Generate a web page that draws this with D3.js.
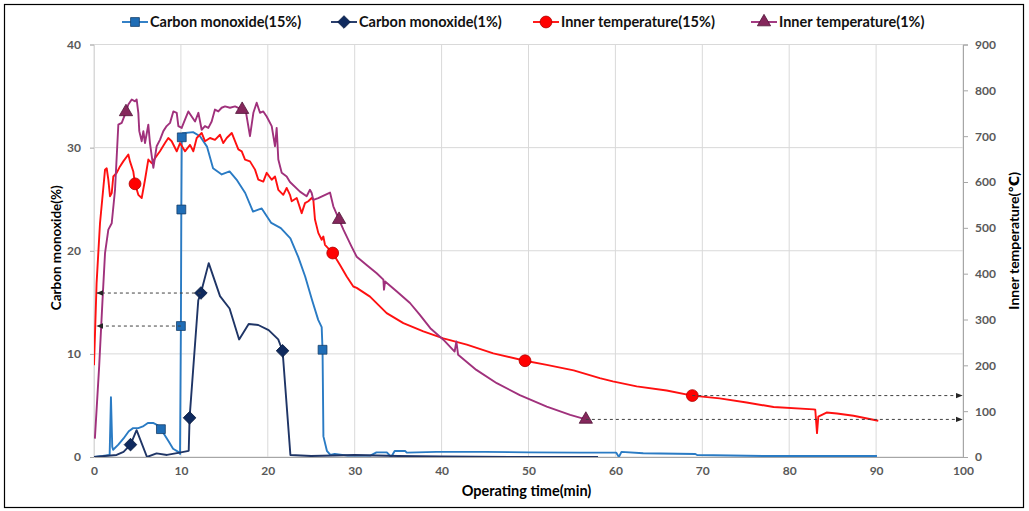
<!DOCTYPE html>
<html><head><meta charset="utf-8">
<script src="https://cdn.jsdelivr.net/npm/d3@7"></script>
<style>
body{margin:0;background:#fff}
svg{display:block}
text{font-family:Lato,"Open Sans","DejaVu Sans",sans-serif}
</style>
</head><body>
<svg id="chart" width="1029" height="511"></svg>
<script>
// ---------- DATA ----------
const xTicks = [0,10,20,30,40,50,60,70,80,90,100];
const leftTicks = [0,10,20,30,40];
const rightTicks = [0,100,200,300,400,500,600,700,800,900];
const seriesNames = ["Carbon monoxide(15%)","Carbon monoxide(1%)","Inner temperature(15%)","Inner temperature(1%)"];
const xTitle = "Operating time(min)";
const leftTitle = "Carbon monoxide(%)";
const rightTitle = "Inner temperature(\u2103)";

// Carbon monoxide 15% [min, %]
const co15 = [[0,0],[1.0,0.1],[1.8,0.2],[1.95,5.8],[2.1,1.0],[2.2,0.7],[2.8,1.2],[3.4,1.8],[4.0,2.5],[4.5,2.8],[5.1,2.8],[5.7,3.0],[6.2,3.3],[6.8,3.3],[7.3,3.1],[7.7,2.7],[8.0,2.3],[8.6,1.5],[9.1,0.8],[9.7,0.5],[9.9,0.3],[10.0,12.7],[10.05,24.0],[10.1,31.0],[10.2,31.4],[11.4,31.5],[12.2,31.1],[13.0,30.1],[13.7,28.0],[14.7,27.4],[15.6,27.7],[16.4,26.9],[17.4,25.6],[18.3,23.8],[19.3,24.1],[20.4,22.7],[21.5,22.2],[22.6,21.2],[23.5,19.4],[24.3,17.5],[25.1,15.2],[25.8,13.3],[26.2,12.6],[26.3,10.4],[26.4,2.0],[26.8,0.6],[27.2,0.2],[27.7,0.3],[29.2,0.13],[31.8,0.13],[32.5,0.45],[33.7,0.45],[34.2,0.0],[34.6,0.58],[35.8,0.58],[36.0,0.42],[39.4,0.5],[45,0.5],[50,0.45],[55.9,0.42],[60.1,0.42],[60.4,0.0],[60.7,0.5],[63.2,0.36],[69.2,0.29],[69.4,0.19],[77.0,0.1],[90.1,0.1]];
const co15Markers = [[7.7,2.7],[10.0,12.7],[10.05,24.0],[10.1,31.0],[26.3,10.4]];

// Carbon monoxide 1% [min, %]
const co1 = [[0,0],[2.6,0.2],[3.4,0.5],[4.2,1.2],[4.9,2.6],[6.1,0.0],[7.2,0.35],[8.4,0.2],[9.7,0.4],[10.9,0.6],[11.0,3.8],[12.0,15.2],[12.3,15.9],[13.2,18.8],[14.5,15.6],[15.6,14.4],[16.7,11.4],[17.8,12.9],[18.9,12.8],[20.1,12.3],[21.2,11.4],[21.7,10.3],[22.6,0.2],[25,0.1],[30,0.2],[35,0.1],[40,0.05],[50,0.0],[58,0.0]];
const co1Markers = [[4.2,1.2],[11.0,3.8],[12.3,15.9],[21.7,10.3]];

// Inner temperature 15% [min, degC]
const temp15 = [[0,200],[0.3,380],[0.69,510],[1.27,627],[1.46,630],[1.65,605],[1.84,569],[2.04,576],[2.22,612],[2.61,620],[2.99,634],[3.37,645],[3.95,660],[4.14,645],[4.52,623],[4.72,596],[5.1,572],[5.49,565],[5.87,605],[6.25,649],[6.64,641],[7.02,652],[7.59,667],[8.17,685],[8.55,696],[8.94,689],[9.52,667],[9.9,685],[10.47,667],[11.05,681],[11.43,667],[11.82,696],[12.39,707],[12.77,689],[13.35,696],[13.92,692],[14.5,703],[14.88,685],[15.27,696],[15.85,707],[16.23,689],[16.61,671],[17.0,667],[17.38,649],[17.95,645],[18.53,627],[18.91,605],[19.48,601],[19.87,620],[20.45,605],[20.83,612],[21.21,583],[21.78,572],[22.17,587],[22.55,572],[22.75,558],[23.33,565],[23.9,532],[24.28,554],[24.66,558],[25.05,565],[25.24,561],[25.43,518],[25.81,489],[26.2,474],[26.39,481],[26.58,463],[27.47,445],[28.31,419],[29.08,394],[29.84,372],[30.23,369],[31.76,350],[33.68,314],[35.6,292],[37.9,274],[40.2,259],[42.9,245],[45.95,226],[49.6,210],[52.1,201],[55.2,189],[58.2,172],[59.7,165],[62.45,154],[65.9,145],[68.85,134],[72.0,128],[75.1,119],[78.2,109],[82.8,104],[83.0,103],[83.2,52],[83.35,88],[84.3,97],[85.5,95],[87.4,90],[90.25,79]];
const temp15Markers = [[4.72,596],[27.47,445],[49.6,210],[68.85,134]];

// Inner temperature 1% [min, degC]
const temp1 = [[0.1,40],[0.6,200],[1.0,350],[1.27,445],[1.65,496],[2.04,510],[2.42,583],[2.8,725],[3.19,729],[3.68,753],[3.95,769],[4.34,780],[4.72,776],[4.91,780],[5.1,751],[5.21,711],[5.49,689],[5.68,711],[5.87,685],[6.25,725],[6.44,685],[6.83,631],[7.21,678],[7.59,692],[7.98,711],[8.36,722],[8.75,729],[9.13,754],[9.52,751],[9.71,722],[10.09,718],[10.47,736],[10.86,754],[11.24,743],[11.63,732],[12.01,751],[12.39,714],[12.77,722],[13.16,718],[13.54,732],[13.92,758],[14.31,754],[14.69,762],[15.08,765],[15.65,762],[16.23,765],[17.05,758],[17.5,751],[17.95,700],[18.34,751],[18.72,773],[19.1,751],[19.48,754],[19.87,743],[20.45,722],[20.83,678],[21.02,718],[21.21,649],[21.6,620],[22.17,612],[22.55,600],[23.7,579],[24.47,569],[24.85,583],[25.05,576],[25.24,561],[25.81,565],[27.16,577],[27.54,547],[28.2,518],[28.7,496],[29.64,459],[30.23,437],[31.37,419],[32.53,401],[33.3,387],[33.37,365],[33.5,383],[34.85,361],[36.36,336],[37.5,310],[38.7,281],[40.2,256],[41.5,230],[41.7,252],[41.9,223],[44.0,190],[46.35,161],[49.0,135],[52.1,110],[54.8,92],[56.6,82]];
const temp1Markers = [[3.68,753],[17.05,758],[28.2,518],[56.6,82]];

// dashed reference arrows: [from x, value, to x]
const arrowsLeft = [[12.3,15.9,0],[10.0,12.7,0]];
const arrowsRight = [[68.85,134,100],[56.6,82,100]];

// ---------- DRAW ----------
const svg = d3.select("#chart");
const L = 94, R = 963, T = 44.5, B = 457;
const x = d3.scaleLinear().domain([0,100]).range([L,R]);
const yL = d3.scaleLinear().domain([0,40]).range([B,T]);
const yR = d3.scaleLinear().domain([0,900]).range([B,T]);

// outer frame
svg.append("rect").attr("x",4.5).attr("y",4.5).attr("width",1019).attr("height",503)
  .attr("fill","#fff").attr("stroke","#000").attr("stroke-width",1.2);

// gridlines
const grid = svg.append("g").attr("stroke","#d9d9d9").attr("stroke-width",1);
xTicks.forEach(t=>grid.append("line").attr("x1",x(t)).attr("x2",x(t)).attr("y1",T).attr("y2",B));
leftTicks.forEach(t=>grid.append("line").attr("x1",L).attr("x2",R).attr("y1",yL(t)).attr("y2",yL(t)));

// axes
const axisColor = "#a6a6a6";
const gL = svg.append("g").attr("transform",`translate(${L},0)`)
  .call(d3.axisLeft(yL).tickValues(leftTicks).tickSize(4).tickPadding(9).tickFormat(d3.format("d")));
const gR = svg.append("g").attr("transform",`translate(${R},0)`)
  .call(d3.axisRight(yR).tickValues(rightTicks).tickSize(5).tickPadding(7).tickFormat(d3.format("d")));
const gB = svg.append("g").attr("transform",`translate(0,${B})`)
  .call(d3.axisBottom(x).tickValues(xTicks).tickSize(0).tickPadding(9).tickFormat(d3.format("d")));
[gL,gR,gB].forEach(g=>{
  g.selectAll("path").attr("stroke",axisColor).attr("stroke-width",1);
  g.selectAll("line").attr("stroke",axisColor);
  g.selectAll("text").attr("fill","#595959").style("font-size","12px").style("font-weight","bold");
});
gL.select("path").attr("stroke","#d9d9d9");

// axis titles
svg.append("text").attr("x",(L+R)/2-2).attr("y",496).attr("text-anchor","middle")
  .style("font-size","14.5px").style("font-weight","bold").text(xTitle);
svg.append("text").attr("transform",`translate(61,${(T+B)/2-3}) rotate(-90)`).attr("text-anchor","middle")
  .style("font-size","13.5px").style("font-weight","bold").text(leftTitle);
svg.append("text").attr("transform",`translate(1019,${(T+B)/2-10}) rotate(-90)`).attr("text-anchor","middle")
  .style("font-size","14px").style("font-weight","bold").text(rightTitle);

// clip
svg.append("clipPath").attr("id","plotclip").append("rect")
  .attr("x",L).attr("y",T-8).attr("width",R-L).attr("height",B-T+8);
const plot = svg.append("g").attr("clip-path","url(#plotclip)");

// dashed arrows
svg.append("defs").append("marker").attr("id","arr").attr("viewBox","0 0 10 10")
  .attr("refX",9).attr("refY",5).attr("markerWidth",7).attr("markerHeight",7).attr("orient","auto-start-reverse")
  .attr("markerUnits","userSpaceOnUse")
  .append("path").attr("d","M0,1 L10,5 L0,9 Z").attr("fill","#262626");
arrowsLeft.forEach(a=>{
  svg.append("line").attr("x1",x(a[0])).attr("x2",x(a[2])+3).attr("y1",yL(a[1])).attr("y2",yL(a[1]))
    .attr("stroke","#404040").attr("stroke-width",1).attr("stroke-dasharray","3,3").attr("marker-end","url(#arr)");
});
arrowsRight.forEach(a=>{
  svg.append("line").attr("x1",x(a[0])).attr("x2",x(a[2])-1).attr("y1",yR(a[1])).attr("y2",yR(a[1]))
    .attr("stroke","#404040").attr("stroke-width",1).attr("stroke-dasharray","3,3").attr("marker-end","url(#arr)");
});

const styles = [
  {data:co15, markers:co15Markers, y:yL, color:"#2a7bc4", mfill:"#1f6db6", mstroke:"#163f6a", sym:d3.symbolSquare, size:78, rot:0},
  {data:co1, markers:co1Markers, y:yL, color:"#1f3566", mfill:"#0f2a5e", mstroke:"#0a1c40", sym:d3.symbolSquare, size:80, rot:45},
  {data:temp15, markers:temp15Markers, y:yR, color:"#ff1010", mfill:"#ff0000", mstroke:"#b00000", sym:d3.symbolCircle, size:110, rot:0},
  {data:temp1, markers:temp1Markers, y:yR, color:"#a0317c", mfill:"#85275c", mstroke:"#4f1436", sym:d3.symbolTriangle, size:76, rot:0}
];

styles.forEach(s=>{
  const line = d3.line().x(d=>x(d[0])).y(d=>s.y(d[1]));
  plot.append("path").datum(s.data).attr("d",line).attr("fill","none")
    .attr("stroke",s.color).attr("stroke-width",1.9).attr("stroke-linejoin","round");
  plot.selectAll(null).data(s.markers).enter().append("path")
    .attr("d",d3.symbol().type(s.sym).size(s.size))
    .attr("transform",d=>`translate(${x(d[0])},${s.y(d[1])}) rotate(${s.rot})`)
    .attr("fill",s.mfill).attr("stroke",s.mstroke).attr("stroke-width",0.8);
});

// legend
const legendX = [122,331,533,751];
const lg = svg.append("g");
styles.forEach((s,i)=>{
  const g = lg.append("g").attr("transform",`translate(${legendX[i]},22)`);
  g.append("line").attr("x1",0).attr("x2",26).attr("y1",0).attr("y2",0).attr("stroke",s.color).attr("stroke-width",1.9);
  g.append("path").attr("d",d3.symbol().type(s.sym).size(s.size)).attr("transform",`translate(13,0) rotate(${s.rot})`)
    .attr("fill",s.mfill).attr("stroke",s.mstroke).attr("stroke-width",0.8);
  g.append("text").attr("x",28).attr("y",5).style("font-size","14.5px").style("font-weight","bold")
    .attr("fill","#111").text(seriesNames[i]);
});
</script>
</body></html>
